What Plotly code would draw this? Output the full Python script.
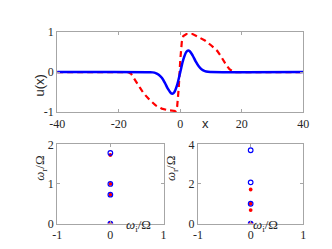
import plotly.graph_objects as go

# top panel: profiles u(x)
x_blue = [-40, -10, -9, -8, -7, -6, -5, -4, -3, -2.6, -2, -1, 0, 1, 2, 2.6, 3, 4, 5, 6, 7, 8, 9, 10, 40]
u_blue = [0, -0.002, -0.007, -0.024, -0.064, -0.143, -0.269, -0.419, -0.527, -0.54, -0.509, -0.318, 0,
          0.318, 0.509, 0.54, 0.527, 0.419, 0.269, 0.143, 0.064, 0.024, 0.007, 0.002, 0]

x_red = [-40, -17, -16, -15, -14, -13, -12, -10, -8, -6, -4, -2, -1.5, -1, -0.5, 0, 0.5, 1, 2, 4, 6, 8, 10,
         12, 13, 14, 15, 16, 17, 18, 40]
u_red = [0, 0, -0.04, -0.15, -0.27, -0.40, -0.52, -0.69, -0.83, -0.91, -0.95, -0.97, -0.97, -0.85, -0.40,
         0.30, 0.75, 0.90, 0.95, 0.95, 0.88, 0.79, 0.67, 0.53, 0.42, 0.29, 0.17, 0.07, 0.02, 0, 0]

# bottom panels: spectra (omega_r / Omega), all on omega_i = 0
left_blue = [0, 0.73, 1.0, 1.78]
left_red = [0, 0.73, 1.0, 1.73]
right_blue = [0, 1.0, 2.08, 3.70]
right_red = [0, 0.68, 1.0, 1.72]

W, H = 332, 249
serif = "Liberation Serif"
grey = "#a6a6a6"

fig = go.Figure()
fig.add_trace(go.Scatter(x=x_red, y=u_red, mode="lines", xaxis="x", yaxis="y",
                         line=dict(color="red", width=2.2, dash="6px,4px")))
fig.add_trace(go.Scatter(x=x_blue, y=u_blue, mode="lines", xaxis="x", yaxis="y", line_shape="spline",
                         line=dict(color="blue", width=2.5)))

for ys_b, ys_r, xa, ya in [(left_blue, left_red, "x2", "y2"), (right_blue, right_red, "x3", "y3")]:
    fig.add_trace(go.Scatter(x=[0] * len(ys_r), y=ys_r, mode="markers", xaxis=xa, yaxis=ya,
                             marker=dict(color="red", size=3.8)))
    fig.add_trace(go.Scatter(x=[0] * len(ys_b), y=ys_b, mode="markers", xaxis=xa, yaxis=ya,
                             marker=dict(symbol="circle-open", color="blue", size=4.6,
                                         line=dict(width=1.2))))

def ax(dom, rng, tv, anchor):
    return dict(domain=dom, range=rng, tickvals=tv, ticktext=[str(t) for t in tv], anchor=anchor,
                showline=True, mirror="ticks", linecolor=grey, linewidth=1, ticks="inside",
                ticklen=3, tickcolor=grey, showgrid=False, zeroline=False, fixedrange=True,
                tickfont=dict(family=serif, size=12, color="#262626"))

fig.update_layout(
    width=W, height=H, margin=dict(l=0, r=0, t=0, b=0), showlegend=False,
    paper_bgcolor="white", plot_bgcolor="white",
    xaxis=ax([43 / W, 300 / W], [-40, 40], [-40, -20, 0, 20, 40], "y"),
    yaxis=ax([1 - 103 / H, 1 - 18 / H], [-1, 1], [-1, 0, 1], "x"),
    xaxis2=ax([43 / W, 154 / W], [-1, 1], [-1, 0, 1], "y2"),
    yaxis2=ax([1 - 221 / H, 1 - 137 / H], [0, 2], [0, 1, 2], "x2"),
    xaxis3=ax([190 / W, 300 / W], [-1, 1], [-1, 0, 1], "y3"),
    yaxis3=ax([1 - 221 / H, 1 - 137 / H], [0, 4], [0, 2, 4], "x3"),
)

def note(txt, px, py, font, size, angle=0):
    fig.add_annotation(text=txt, x=px / W, y=1 - py / H, xref="paper", yref="paper", showarrow=False,
                       textangle=angle, font=dict(family=font, size=size, color="#262626"))

note("x", 198, 115, "Liberation Sans", 13)
note("u(x)", 15, 61, "Liberation Sans", 13, -90)
omega_r = "<i>ω</i><sub>r</sub>/Ω"
omega_i = "<i>ω</i><sub>i</sub>/Ω"
note(omega_r, 15, 178, serif, 13, -90)
note(omega_r, 163, 178, serif, 13, -90)
note(omega_i, 128, 234, serif, 13)
note(omega_i, 276, 234, serif, 13)

fig.write_html("out.html")
